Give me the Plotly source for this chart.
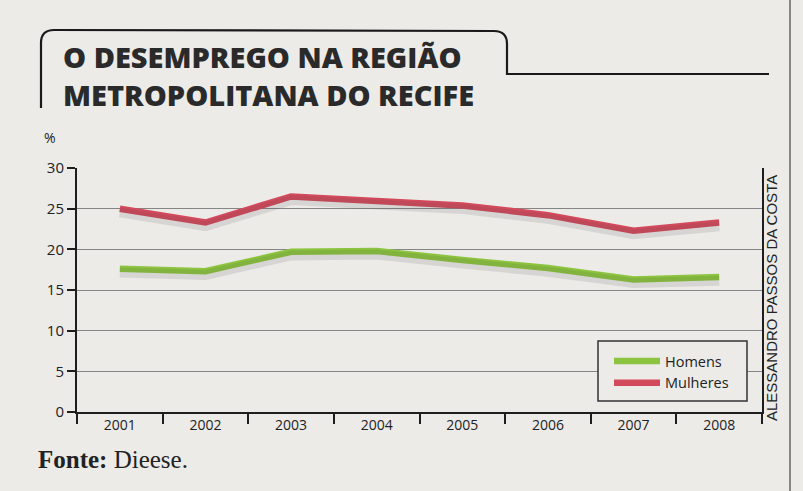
import plotly.graph_objects as go

# ---- data ----
anos = ["2001", "2002", "2003", "2004", "2005", "2006", "2007", "2008"]
homens = [17.6, 17.3, 19.7, 19.8, 18.7, 17.7, 16.3, 16.6]
mulheres = [25.0, 23.3, 26.5, 26.0, 25.4, 24.2, 22.3, 23.3]
y_ticks = [0, 5, 10, 15, 20, 25, 30]

# ---- geometry helpers (pixels -> paper) ----
W_FIG, H_FIG = 803, 491
L, R, T, B = 77, 762, 168, 412
PW, PH = R - L, B - T


def fx(x):
    return (x - L) / PW


def fy(y):
    return (B - y) / PH


BG = "#ecebe8"
INK = "#222222"
GREEN = "#8cc43f"
RED = "#d34a5c"

fig = go.Figure()

# soft drop shadows (drawn on an overlaid, slightly shifted axis)
for vals in (homens, mulheres):
    fig.add_trace(go.Scatter(
        x=anos, y=vals, mode="lines", yaxis="y2",
        line=dict(color="rgba(70,70,70,0.13)", width=10),
        hoverinfo="skip", showlegend=False))

fig.add_trace(go.Scatter(x=anos, y=homens, mode="lines", name="Homens",
                         line=dict(color=GREEN, width=6.5)))
fig.add_trace(go.Scatter(x=anos, y=mulheres, mode="lines", name="Mulheres",
                         line=dict(color=RED, width=6.5)))

tab = (f"M {fx(41)},{fy(108)} L {fx(41)},{fy(43)} "
       f"Q {fx(41)},{fy(30)} {fx(54)},{fy(30)} "
       f"L {fx(494)},{fy(31)} Q {fx(507)},{fy(31)} {fx(507)},{fy(44)} "
       f"L {fx(507)},{fy(74)} L {fx(769)},{fy(74)}")

shapes = [
    dict(type="path", xref="paper", yref="paper", path=tab,
         line=dict(color="#1a1a1a", width=2.2)),
    dict(type="line", xref="paper", yref="paper",
         x0=fx(790), x1=fx(790), y0=fy(0), y1=fy(491),
         line=dict(color="#444444", width=1.2)),
    # legend frame
    dict(type="rect", xref="paper", yref="paper",
         x0=fx(598), x1=fx(747), y0=fy(401), y1=fy(341),
         fillcolor=BG, line=dict(color="#333333", width=1.5), layer="above"),
]

annotations = [
    dict(text="O DESEMPREGO NA REGIÃO<br>METROPOLITANA DO RECIFE",
         xref="paper", yref="paper", align="left",
         x=fx(61), y=fy(75.5), xanchor="left", yanchor="middle", showarrow=False,
         font=dict(family="Open Sans", size=29, color="#2a2a2a", weight=800)),
    dict(text="%", xref="paper", yref="paper", x=fx(50), y=fy(137),
         xanchor="center", yanchor="middle", showarrow=False,
         font=dict(family="Open Sans", size=14, color=INK)),
    dict(text="ALESSANDRO PASSOS DA COSTA", xref="paper", yref="paper",
         x=fx(771), y=fy(298), xanchor="center", yanchor="middle",
         textangle=-90, showarrow=False,
         font=dict(family="Liberation Sans", size=15, color=INK)),
    dict(text="<b>Fonte:</b> Dieese.", xref="paper", yref="paper",
         x=fx(36), y=fy(459), xanchor="left", yanchor="middle", showarrow=False,
         font=dict(family="Liberation Serif", size=25, color=INK)),
]

fig.update_layout(
    width=W_FIG, height=H_FIG,
    margin=dict(l=L, r=W_FIG - R, t=T, b=H_FIG - B, pad=0),
    paper_bgcolor=BG, plot_bgcolor=BG,
    font=dict(family="Open Sans", size=14, color=INK),
    xaxis=dict(type="category", categoryorder="array", categoryarray=anos,
               range=[-0.5, 7.5], tickson="boundaries", ticks="outside",
               ticklen=10, tickwidth=2, tickcolor="#1e1e1e",
               showline=True, linewidth=2, linecolor="#1e1e1e",
               showgrid=False, ticklabelstandoff=-1,
               tickfont=dict(family="Open Sans", size=14, color=INK)),
    yaxis=dict(range=[0, 30], tickvals=y_ticks, ticks="outside", ticklen=8,
               tickwidth=2, tickcolor="#1e1e1e", showline=True, linewidth=2,
               linecolor="#1e1e1e", mirror=True, showgrid=True,
               gridcolor="#858585", gridwidth=1, zeroline=False,
               tickfont=dict(family="Open Sans", size=15, color=INK)),
    yaxis2=dict(range=[0.45, 30.45], overlaying="y", visible=False),
    legend=dict(x=fx(609), y=fy(345), xanchor="left", yanchor="top",
                bgcolor="rgba(0,0,0,0)", borderwidth=0,
                font=dict(family="Open Sans", size=14.5, color=INK),
                itemwidth=46, tracegroupgap=0),
    shapes=shapes, annotations=annotations, showlegend=True,
)

fig.write_html(
    "out.html",
    config={"displayModeBar": False},
    post_script="document.body.style.margin='0';"
                "document.body.style.background='" + BG + "';",
)
